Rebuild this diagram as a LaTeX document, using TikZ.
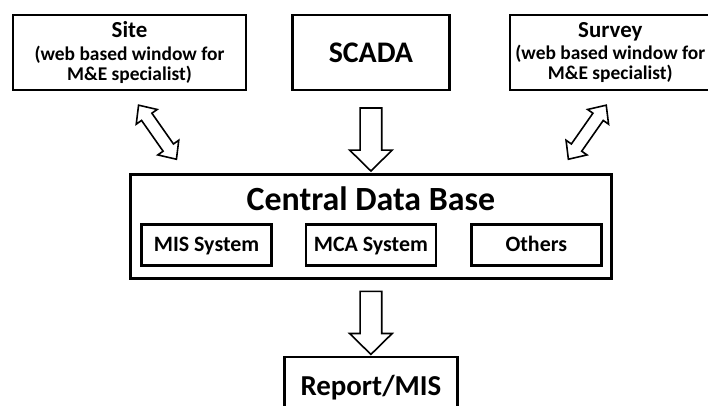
\documentclass[tikz,border=0pt]{standalone}
\usepackage{fontspec}
\setmainfont{Carlito}
\usetikzlibrary{positioning,calc,shapes.arrows}

\begin{document}
\begin{tikzpicture}[x=1bp,y=1bp,node distance=10bp,
    box/.style={draw,line width=2.4bp,inner sep=0pt,align=center,font=\bfseries},
    topbox/.style={box,minimum height=75bp,font=\bfseries\fontsize{19.5}{20.5}\selectfont},
    subbox/.style={box,minimum width=130bp,minimum height=41bp,text height=14bp,text depth=0pt,
        font=\bfseries\fontsize{22}{24}\selectfont},
    fatarrow/.style={single arrow,draw,line width=1.6bp,inner xsep=0pt,inner ysep=10bp,
        single arrow head extend=10.5bp,single arrow tip angle=91,minimum height=63bp},
    dblarrow/.style={double arrow,draw,line width=1.6bp,inner xsep=0pt,inner ysep=5.5bp,
        double arrow head extend=6.5bp,double arrow tip angle=84,minimum height=66bp}]

    \useasboundingbox (0,0) rectangle (708,405);

    \node[topbox,minimum width=233bp] (site) at (129.5,352.5)
        {{\fontsize{23}{24}\selectfont Site}\\[2bp](web based window for\\M\&E specialist)};
    \node[topbox,minimum width=157bp,font=\bfseries\fontsize{30}{32}\selectfont] (scada) [right=44bp of site] {SCADA};
    \node[topbox,minimum width=201bp] (survey) [right=58bp of scada]
        {{\fontsize{23}{24}\selectfont Survey}\\[2bp](web based window for\\M\&E specialist)};

    \node[box,minimum width=481bp,minimum height=104bp] (cdb) [below=82bp of scada] {};
    \node[font=\bfseries\fontsize{34}{36}\selectfont,anchor=base] (cdbtitle) at ([yshift=-37bp]cdb.north) {Central Data Base};
    \node[subbox,anchor=south] (mca) at ([yshift=13bp]cdb.south) {MCA System};
    \node[subbox] (mis) [left=32bp of mca] {MIS System};
    \node[subbox] (others) [right=33bp of mca] {Others};

    \node[box,minimum width=173bp,minimum height=62bp,font=\bfseries\fontsize{29}{31}\selectfont] (report) [below=76bp of cdb] {Report/MIS};

    \node[dblarrow,rotate=-55] (a1) at ([xshift=28bp]$(site.south)!.5!(site.south |- cdb.north)$) {};
    \node[fatarrow,rotate=-90] (a2) at ([yshift=-2bp]$(scada.south)!.5!(cdb.north)$) {};
    \node[dblarrow,rotate=55] (a3) at ([xshift=-23bp]$(survey.south)!.5!(survey.south |- cdb.north)$) {};
    \node[fatarrow,rotate=-90] (a4) at ($(cdb.south)!.5!(report.north)$) {};

\end{tikzpicture}
\end{document}
